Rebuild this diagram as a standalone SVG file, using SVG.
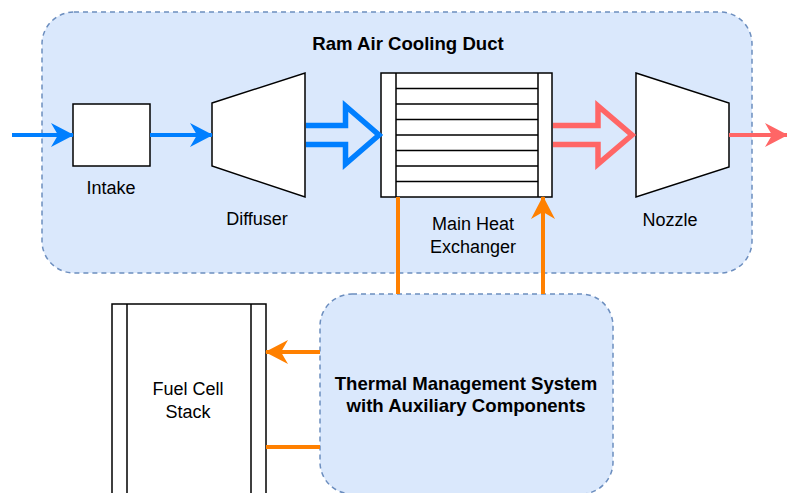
<svg xmlns="http://www.w3.org/2000/svg" width="787" height="493" viewBox="0 0 787 493">
<style>
.grp{fill:#dae8fc;stroke:#6c8ebf;stroke-width:1.5;stroke-dasharray:5 4}
.box{fill:#ffffff;stroke:#000000;stroke-width:1.5}
.ln{stroke:#000000;stroke-width:1.5;fill:none}
.t{font-family:"Liberation Sans",Arial,sans-serif;font-size:18px;fill:#000000;text-anchor:middle}
.b{font-weight:bold;font-size:18.6px}
.blue{stroke:#007fff;stroke-width:4;fill:none}
.red{stroke:#ff6666;stroke-width:4;fill:none}
.org{stroke:#ff8000;stroke-width:4;fill:none}
</style>
<defs>
<marker id="mBlue" viewBox="0 0 24 24" refX="22" refY="12" markerWidth="24" markerHeight="24" markerUnits="userSpaceOnUse" orient="auto">
<path d="M0,0 L23,12 L0,24 L7,12 Z" fill="#007fff"/>
</marker>
<marker id="mRed" viewBox="0 0 24 24" refX="22" refY="12" markerWidth="24" markerHeight="24" markerUnits="userSpaceOnUse" orient="auto">
<path d="M0,0 L23,12 L0,24 L7,12 Z" fill="#ff6666"/>
</marker>
<marker id="mOrg" viewBox="0 0 24 24" refX="22" refY="12" markerWidth="24" markerHeight="24" markerUnits="userSpaceOnUse" orient="auto">
<path d="M0,0 L23,12 L0,24 L7,12 Z" fill="#ff8000"/>
</marker>
</defs>

<g id="duct">
<rect class="grp" x="42" y="12" width="710" height="261" rx="32" ry="32"/>
<text class="t b" x="408" y="50">Ram Air Cooling Duct</text>
</g>

<g id="tms">
<rect class="grp" x="320" y="294" width="293" height="200" rx="32" ry="32"/>
<text class="t b" x="466" y="390">Thermal Management System</text>
<text class="t b" x="466" y="412">with Auxiliary Components</text>
</g>

<g id="intake">
<rect class="box" x="73" y="104" width="77" height="62"/>
<text class="t" x="111" y="194">Intake</text>
</g>

<g id="diffuser">
<path class="box" d="M212,103 L305,73 L305,197 L212,166 Z"/>
<text class="t" x="257" y="225">Diffuser</text>
</g>

<g id="hx">
<rect class="box" x="381" y="73" width="171" height="124"/>
<path class="ln" d="M396,73 V197 M538,73 V197 M396,88.5 H538 M396,104 H538 M396,119.5 H538 M396,135 H538 M396,150.5 H538 M396,166 H538 M396,181.5 H538"/>
<text class="t" x="473" y="230">Main Heat</text>
<text class="t" x="473" y="253">Exchanger</text>
</g>

<g id="nozzle">
<path class="box" d="M636,73 L729,103 L729,167 L636,197 Z"/>
<text class="t" x="670" y="226">Nozzle</text>
</g>

<g id="fuelcell">
<rect class="box" x="112" y="304" width="154" height="200"/>
<path class="ln" d="M127,304 V504 M251,304 V504"/>
<text class="t" x="188" y="395">Fuel Cell</text>
<text class="t" x="188" y="418">Stack</text>
</g>

<g id="connectors">
<line class="blue" x1="12" y1="135" x2="73" y2="135" marker-end="url(#mBlue)"/>
<line class="blue" x1="150" y1="135" x2="212" y2="135" marker-end="url(#mBlue)"/>
<path d="M306,125.5 H345.5 V106 L379,135 L345.5,164 V144.5 H306" fill="none" stroke="#007fff" stroke-width="5.5"/>
<path d="M553,125.5 H598 V106 L632,135 L598,164 V144.5 H553" fill="none" stroke="#ff6666" stroke-width="5.5"/>
<line class="red" x1="729" y1="135" x2="787" y2="135" marker-end="url(#mRed)"/>
<line class="org" x1="398" y1="197" x2="398" y2="294"/>
<line class="org" x1="543" y1="294" x2="543" y2="197" marker-end="url(#mOrg)"/>
<line class="org" x1="320" y1="352" x2="266" y2="352" marker-end="url(#mOrg)"/>
<line class="org" x1="320" y1="447" x2="266" y2="447"/>
</g>
</svg>
